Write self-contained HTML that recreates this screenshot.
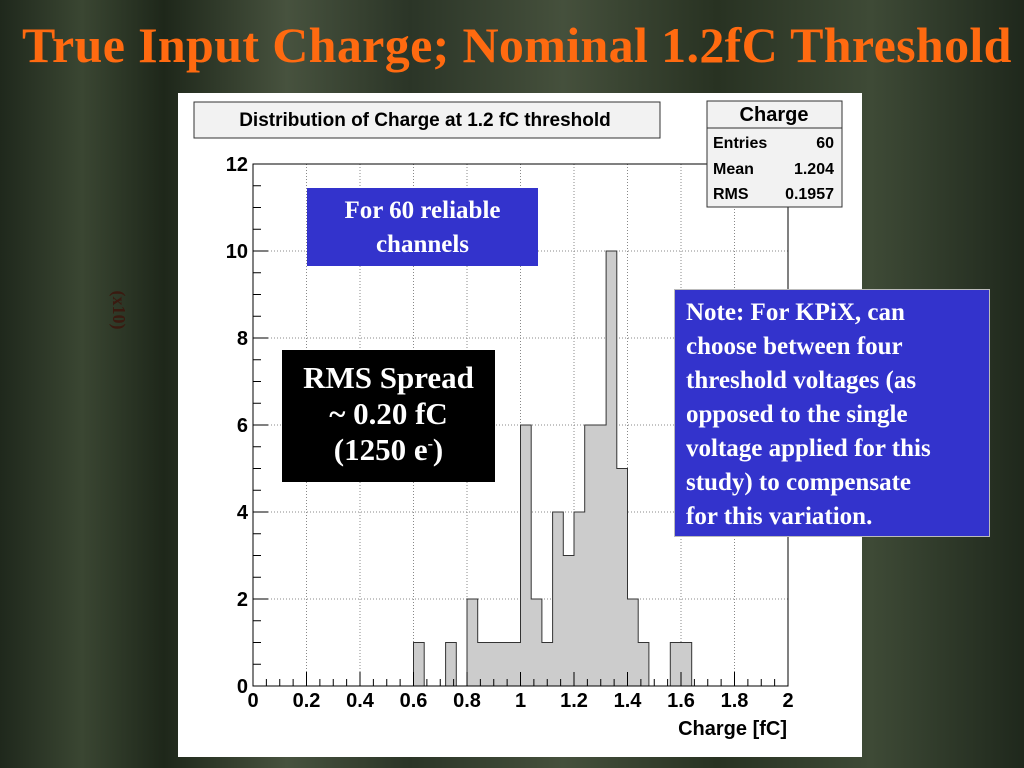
<!DOCTYPE html>
<html><head><meta charset="utf-8"><style>
body{margin:0;width:1024px;height:768px;overflow:hidden;background:linear-gradient(90deg,#1f281c 0%,#3a4632 8%,#1e271a 16%,#47523e 28%,#2b3527 40%,#45503c 55%,#283222 70%,#3e4a36 85%,#1f281c 100%);font-family:"Liberation Serif",serif;position:relative}
.t{position:absolute}
</style></head><body>
<div class="t" style="left:22px;top:16px;color:#ff6a10;font-size:50px;font-weight:bold;white-space:nowrap;letter-spacing:0.35px">True Input Charge; Nominal 1.2fC Threshold</div>
<svg class="t" style="left:0;top:0" width="1024" height="768">
<rect x="178" y="93" width="684" height="664" fill="#fff"/>
<g id="grid"></g>
<g id="bars"></g>
<rect x="253" y="164" width="535" height="522" fill="none" stroke="#000" stroke-width="1"/>
<g id="axes" font-family="Liberation Sans, sans-serif" font-weight="bold" font-size="20"></g>
<text x="787" y="735" text-anchor="end" font-family="Liberation Sans, sans-serif" font-weight="bold" font-size="20">Charge [fC]</text>
<text x="113" y="310" transform="rotate(90 113 310)" text-anchor="middle" font-size="18" font-weight="bold" fill="#3a1a10">(x10)</text>
<rect x="194" y="102" width="466" height="36" fill="#f2f2f2" stroke="#333"/>
<text x="425" y="126" text-anchor="middle" font-family="Liberation Sans, sans-serif" font-weight="bold" font-size="19">Distribution of Charge at 1.2 fC threshold</text>
<g font-family="Liberation Sans, sans-serif" font-weight="bold">
<rect x="707" y="101" width="135" height="106" fill="#f2f2f2" stroke="#333"/>
<line x1="707" y1="128" x2="842" y2="128" stroke="#333"/>
<text x="774" y="121" text-anchor="middle" font-size="20">Charge</text>
<text x="713" y="148" font-size="16">Entries</text><text x="834" y="148" text-anchor="end" font-size="16">60</text>
<text x="713" y="174" font-size="16">Mean</text><text x="834" y="174" text-anchor="end" font-size="16">1.204</text>
<text x="713" y="199" font-size="16">RMS</text><text x="834" y="199" text-anchor="end" font-size="16">0.1957</text>
</g>
</svg>
<div class="t" style="left:307px;top:188px;width:231px;height:78px;background:#3333cc;color:#fff;font-size:25px;font-weight:bold;text-align:center;line-height:34px;padding-top:6px;box-sizing:border-box">For 60 reliable<br>channels</div>
<div class="t" style="left:282px;top:350px;width:213px;height:132px;background:#000;color:#fff;font-size:31px;font-weight:bold;text-align:center;line-height:36px;padding-top:10px;box-sizing:border-box">RMS Spread<br>~ 0.20 fC<br>(1250 e<sup style="font-size:16px;line-height:0">-</sup>)</div>
<div class="t" style="left:674px;top:289px;width:316px;height:248px;background:#3333cc;border:1px solid #bbb;color:#fff;font-size:25px;font-weight:bold;line-height:34px;padding:6px 0 0 11px;box-sizing:border-box;white-space:nowrap">Note: For KPiX, can<br>choose between four<br>threshold voltages (as<br>opposed to the single<br>voltage applied for this<br>study) to compensate<br>for this variation.</div>
<script>
const binStarts=[0.60,0.64,0.68,0.72,0.76,0.80,0.84,0.88,0.92,0.96,1.00,1.04,1.08,1.12,1.16,1.20,1.24,1.28,1.32,1.36,1.40,1.44,1.48,1.52,1.56,1.60];
const counts=[1,0,0,1,0,2,1,1,1,1,6,2,1,4,3,4,6,6,10,5,2,1,0,0,1,1];
const binWidth=0.04;
const xTicks=[0,0.2,0.4,0.6,0.8,1,1.2,1.4,1.6,1.8,2];
const xTickLabels=["0","0.2","0.4","0.6","0.8","1","1.2","1.4","1.6","1.8","2"];
const yTicks=[0,2,4,6,8,10,12];
const NS="http://www.w3.org/2000/svg";
const X=v=>253+v/2*535, Y=v=>686-v/12*522;
function mk(t,a,p){const e=document.createElementNS(NS,t);for(const k in a)e.setAttribute(k,a[k]);p.appendChild(e);return e;}
const grid=document.getElementById('grid'),bars=document.getElementById('bars'),axes=document.getElementById('axes');
xTicks.forEach((v,i)=>{if(i>0&&i<xTicks.length-1){const l=mk('line',{x1:X(v),x2:X(v),y1:164,y2:686,stroke:'#888','stroke-dasharray':'1,2'},grid);

}
const t=mk('text',{x:X(v),y:707,'text-anchor':'middle'},axes);t.textContent=xTickLabels[i];

});
for(let v=0;v<=2.001;v+=0.05){const big=Math.abs(v*5-Math.round(v*5))<1e-6;mk('line',{x1:X(v),x2:X(v),y1:686,y2:big?672:679,stroke:'#000'},axes);}
yTicks.forEach(v=>{if(v>0&&v<12){const l=mk('line',{x1:253,x2:788,y1:Y(v),y2:Y(v),stroke:'#888','stroke-dasharray':'1,2'},grid);

}
const t=mk('text',{x:248,y:Y(v)+7,'text-anchor':'end'},axes);t.textContent=v;

});
for(let v=0;v<=12;v+=0.5)mk('line',{x1:253,x2:v%2==0?268:261,y1:Y(v),y2:Y(v),stroke:'#000'},axes);
let d='M'+X(binStarts[0])+','+Y(0);
binStarts.forEach((s,i)=>{const c=counts[i];
d+=' L'+X(s)+','+Y(c)+' L'+X(s+binWidth)+','+Y(c);});
d+=' L'+X(binStarts[binStarts.length-1]+binWidth)+','+Y(0)+' Z';
const p=mk('path',{d:d,fill:'#cccccc',stroke:'#333','stroke-width':1},bars);


</script>
</body></html>
